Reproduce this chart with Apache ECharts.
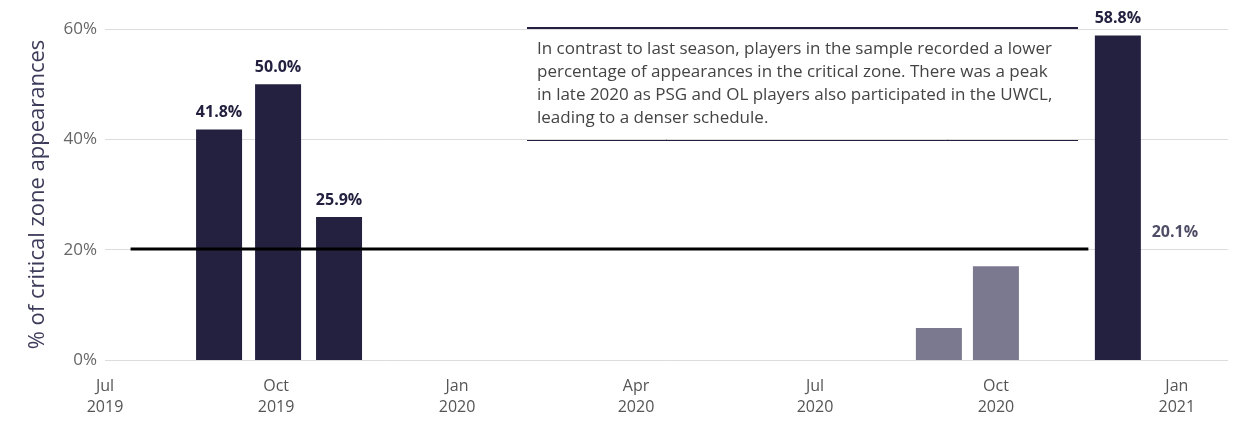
<!DOCTYPE html>
<html>
<head>
<meta charset="utf-8">
<script src="https://cdn.jsdelivr.net/npm/echarts@6/dist/echarts.min.js"></script>
<style>
  html, body { margin: 0; padding: 0; background: #fff; }
  #chart { width: 1240px; height: 421px; }
</style>
</head>
<body>
<div id="chart"></div>
<script>
// 数据
const monthsDark = ['2019-09-02', '2019-10-02', '2019-11-02', '2020-12-02']
const valuesDark = [41.8, 50.0, 25.9, 58.8]
const monthsGrey = ['2020-09-02', '2020-10-01']
const valuesGrey = [5.8, 17.0]
const avgValue = 20.1
const avgRange = ['2019-07-19', '2020-11-17']
const avgLabelDate = '2020-12-31'
const tickDates = ['2019-07-01', '2019-10-01', '2020-01-01', '2020-04-01', '2020-07-01', '2020-10-01', '2021-01-01']
const monthNames = ['Jan', 'Feb', 'Mar', 'Apr', 'May', 'Jun', 'Jul', 'Aug', 'Sep', 'Oct', 'Nov', 'Dec']
const note = 'In contrast to last season, players in the sample recorded a lower\npercentage of appearances in the critical zone. There was a peak\nin late 2020 as PSG and OL players also participated in the UWCL,\nleading to a denser schedule.'

const ts = (d) => +new Date(d + 'T00:00:00Z')
const xMin = ts('2019-07-06')
const xMax = ts('2021-01-27')
const FONT = 'Open Sans'
const DARK = '#23213f'
const GREY = '#7b7990'

const chart = echarts.init(document.getElementById('chart'))

chart.setOption({
  animation: false,
  textStyle: { fontFamily: FONT },
  grid: { left: 105, right: 12, top: 29, bottom: 61 },
  xAxis: {
    type: 'value',
    min: xMin,
    max: xMax,
    axisLine: { show: false },
    axisTick: { show: false },
    splitLine: { show: false },
    axisLabel: {
      customValues: tickDates.map(d => Math.max(ts(d), xMin)),
      color: '#555',
      fontSize: 16,
      lineHeight: 21,
      margin: 16,
      fontFamily: FONT,
      showMinLabel: true,
      showMaxLabel: true,
      formatter: (v) => {
        const d = new Date(v)
        return monthNames[d.getUTCMonth()] + '\n' + d.getUTCFullYear()
      }
    }
  },
  yAxis: {
    type: 'value',
    min: 0,
    max: 60,
    interval: 20,
    name: '% of critical zone appearances',
    nameLocation: 'middle',
    nameGap: 56,
    nameTextStyle: { color: '#3d3b5a', fontSize: 22, fontFamily: FONT },
    axisLine: { show: false },
    axisTick: { show: false },
    axisLabel: {
      color: '#666',
      fontSize: 17,
      margin: 8,
      formatter: (v) => v + '%'
    },
    splitLine: { lineStyle: { color: '#dcdcdc', width: 1 } }
  },
  series: [
    {
      type: 'bar',
      barWidth: 46,
      barGap: '-100%',
      itemStyle: { color: DARK },
      label: {
        show: true,
        position: 'top',
        distance: 9,
        color: DARK,
        fontWeight: 'bold',
        fontSize: 16,
        formatter: (p) => p.value[1].toFixed(1) + '%'
      },
      data: monthsDark.map((d, i) => [ts(d), valuesDark[i]])
    },
    {
      type: 'bar',
      barWidth: 46,
      barGap: '-100%',
      itemStyle: { color: GREY },
      data: monthsGrey.map((d, i) => [ts(d), valuesGrey[i]])
    },
    {
      type: 'line',
      symbol: 'none',
      lineStyle: { color: '#000', width: 3 },
      data: avgRange.map(d => [ts(d), avgValue]),
      z: 5
    },
    {
      type: 'scatter',
      symbolSize: 0,
      label: {
        show: true,
        position: 'top',
        distance: 9,
        color: DARK,
        fontWeight: 'bold',
        fontSize: 16,
        formatter: avgValue.toFixed(1) + '%'
      },
      data: [[ts(avgLabelDate), avgValue]]
    }
  ],
  graphic: [
    { type: 'line', shape: { x1: 527, y1: 28, x2: 1078, y2: 28 }, style: { stroke: DARK, lineWidth: 2 } },
    { type: 'line', shape: { x1: 527, y1: 140, x2: 1078, y2: 140 }, style: { stroke: DARK, lineWidth: 2 } },
    {
      type: 'text',
      left: 537,
      top: 38,
      style: { text: note, font: '17px "' + FONT + '"', fill: '#444', lineHeight: 23 }
    }
  ]
})
</script>
</body>
</html>
